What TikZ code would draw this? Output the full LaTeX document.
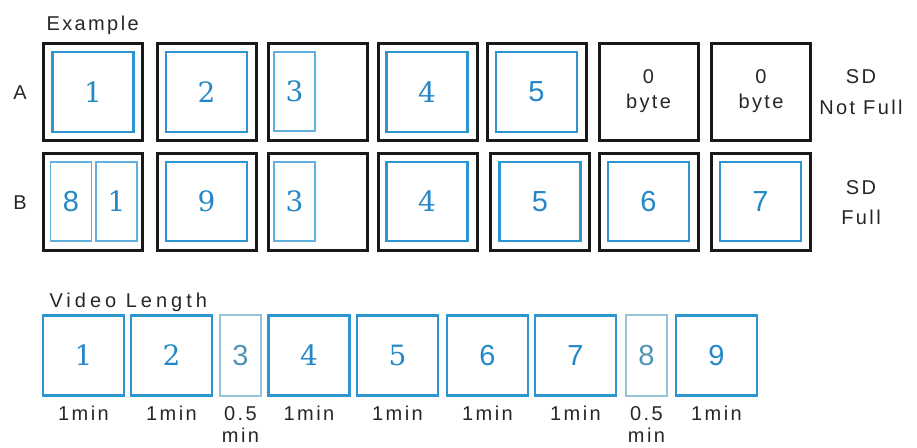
\documentclass[tikz,border=0pt]{standalone}
\usepackage{fontspec}
\newfontfamily\lblfont[LetterSpace=12]{Liberation Sans}
\newfontfamily\widefont[LetterSpace=20]{Liberation Sans}
\newfontfamily\sansdigit{Liberation Sans}
\newfontfamily\serifdigit{DejaVu Serif}
\usepackage{tikz}
\usetikzlibrary{positioning}
\definecolor{vblue}{RGB}{45,150,210}
\definecolor{numblue}{RGB}{35,135,200}
\definecolor{paleblue}{RGB}{150,195,215}
\definecolor{paletext}{RGB}{80,150,180}

\begin{document}
\begin{tikzpicture}[x=1pt,y=-1pt,
  cardslot/.style={draw=black!90,line width=3pt,minimum width=99pt,minimum height=97pt,inner sep=0pt},
  vidbox/.style={draw=vblue,line width=2.2pt,minimum width=81pt,minimum height=80pt,inner sep=0pt},
  halfbox/.style={draw=vblue!75,line width=1.2pt,minimum width=41pt,minimum height=79pt,inner sep=0pt},
  palebox/.style={draw=paleblue,line width=1.5pt,minimum width=41pt,minimum height=81pt,inner sep=0pt},
  rnum/.style={text=numblue,font=\serifdigit\fontsize{28}{28}\selectfont},
  snum/.style={text=numblue,font=\sansdigit\fontsize{29}{29}\selectfont},
  lbl/.style={text=black!85,font=\lblfont\fontsize{20}{25}\selectfont}]

  \useasboundingbox (0,0) rectangle (917,447);

  % Example: two SD cards
  \node[lbl,anchor=base west] (ex) at (43,30) {Example};
  \node[lbl] (rowA) at (20,93) {A};
  \node[lbl] (rowB) at (20,203) {B};

  % Row A: slots
  \foreach \x/\n in {93/1,206.5/2,318/3,427.5/4,536.5/5}{
    \node[cardslot] (a\n) at (\x,91.5) {};
  }
  \node[cardslot,lbl,align=center] (a6) at (648.5,91.5) {0\\byte};
  \node[cardslot,lbl,align=center] (a7) at (761,91.5) {0\\byte};
  % Row A: clips
  \node[vidbox,rnum] (ca1) at (93,92) {1};
  \node[vidbox,rnum] (ca2) at (206.5,92) {2};
  \node[halfbox,rnum] (ca3) at (294.5,91.5) {3};
  \node[vidbox,rnum] (ca4) at (427,92) {4};
  \node[vidbox,snum] (ca5) at (536.5,92) {5};
  \node[lbl,align=center,font=\lblfont\fontsize{20}{31}\selectfont] (sdA) at (861,92) {SD\\Not Full};

  % Row B: slots
  \foreach \x/\n in {93/1,206.5/2,318/3,427.5/4,539.5/5,648.5/6,761/7}{
    \node[cardslot] (b\n) at (\x,201.5) {};
  }
  % Row B: clips
  \node[halfbox,snum] (cb8) at (71,201.5) {8};
  \node[halfbox,rnum] (cb1) at (116.5,201.5) {1};
  \node[vidbox,minimum height=79pt,rnum] (cb9) at (206.5,201.5) {9};
  \node[halfbox,rnum] (cb3) at (294.5,201.5) {3};
  \node[vidbox,minimum height=79pt,rnum] (cb4) at (427,201.5) {4};
  \foreach \x/\n in {540/5,648.5/6,760.5/7}{
    \node[vidbox,minimum height=79pt,snum] (cb\n) at (\x,201.5) {\n};
  }
  \node[lbl,align=center,font=\lblfont\fontsize{20}{30}\selectfont] (sdB) at (861,203) {SD\\Full};

  % Video length
  \node[lbl,anchor=base west,font=\widefont\fontsize{20}{24}\selectfont] (vl) at (46,307) {Video Length};
  \node[vidbox,rnum] (v1) at (83.5,355.5) {1};
  \node[vidbox,rnum] (v2) at (171.5,355.5) {2};
  \node[palebox,text=paletext,font=\sansdigit\fontsize{29}{29}\selectfont] (v3) at (240.5,355.5) {3};
  \node[vidbox,rnum] (v4) at (309,355.5) {4};
  \node[vidbox,rnum] (v5) at (397.5,355.5) {5};
  \node[vidbox,snum] (v6) at (487.5,355.5) {6};
  \node[vidbox,snum] (v7) at (575.5,355.5) {7};
  \node[palebox,text=paletext,font=\sansdigit\fontsize{29}{29}\selectfont] (v8) at (646.5,355.5) {8};
  \node[vidbox,snum] (v9) at (716.5,355.5) {9};
  \foreach \n in {1,2,4,5,6,7,9}{
    \node[lbl,font=\lblfont\fontsize{20}{22}\selectfont,below=6pt of v\n] (t\n) {1min};
  }
  \foreach \n in {3,8}{
    \node[lbl,align=center,font=\lblfont\fontsize{20}{22}\selectfont,below=6pt of v\n] (t\n) {0.5\\min};
  }

\end{tikzpicture}
\end{document}
